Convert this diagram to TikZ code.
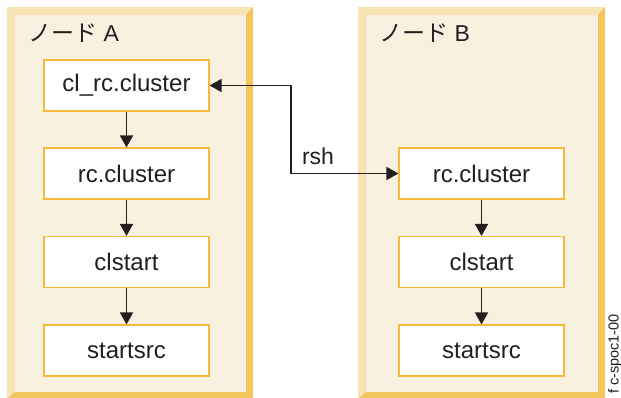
\documentclass[tikz,border=0pt]{standalone}
\usepackage{fontspec}
\setmainfont{Liberation Sans}
\newfontfamily\jpfont{Noto Sans CJK JP}
\usetikzlibrary{arrows.meta}
\definecolor{panelfill}{HTML}{F8F1DF}
\definecolor{bevellight}{HTML}{F6E4B4}
\definecolor{beveldark}{HTML}{F4C75C}
\definecolor{boxline}{HTML}{F6B93E}
\definecolor{ink}{HTML}{231F20}
\newcommand\bevelpanel[4]{%
  \fill[panelfill] (#1,#2) rectangle (#3,#4);
  \fill[bevellight] (#1,#2) -- (#3,#2) -- (#3-7,#2+8) -- (#1+8,#2+8) -- cycle;
  \fill[bevellight] (#1,#2) -- (#1+8,#2+8) -- (#1+8,#4-7) -- (#1,#4) -- cycle;
  \fill[beveldark] (#3,#2) -- (#3,#4) -- (#3-7,#4-7) -- (#3-7,#2+8) -- cycle;
  \fill[beveldark] (#1,#4) -- (#3,#4) -- (#3-7,#4-7) -- (#1+8,#4-7) -- cycle;
}
\begin{document}
\begin{tikzpicture}[x=1pt,y=-1pt,
  procbox/.style={draw=boxline,line width=1.2pt,fill=white,minimum width=165pt,minimum height=51pt,inner sep=0pt,text=ink,font=\fontsize{24}{28}\selectfont},
  flow/.style={draw=ink,line width=1.8pt,-{Triangle[length=12pt,width=13pt]}},
  flowboth/.style={draw=ink,line width=1.8pt,{Triangle[length=12pt,width=13pt]}-{Triangle[length=12pt,width=13pt]}},
  paneltitle/.style={anchor=west,text=ink,inner sep=0pt,font=\fontsize{23}{28}\selectfont},
  figid/.style={rotate=90,anchor=east,text=ink,inner sep=0pt,font=\fontsize{14.5}{16}\selectfont}]
\useasboundingbox (0,0) rectangle (621,397);
\clip (0,0) rectangle (621,397);
\fill[white] (0,0) rectangle (621,397);
\bevelpanel{7}{7}{253}{399}
\bevelpanel{358}{7}{605}{399}
\node[paneltitle] (ta) at (28,33) {{\jpfont ノード} A};
\node[paneltitle] (tb) at (379,33) {{\jpfont ノード} B};
\node[procbox] (a1) at (126.5,85.5) {cl\_rc.cluster};
\node[procbox] (a2) at (126.5,173.5) {rc.cluster};
\node[procbox] (a3) at (126.5,262) {clstart};
\node[procbox] (a4) at (126.5,350.5) {startsrc};
\node[procbox] (b2) at (481.5,173.5) {rc.cluster};
\node[procbox] (b3) at (481.5,262) {clstart};
\node[procbox] (b4) at (481.5,350.5) {startsrc};
\draw[flow] (a1) -- (a2);
\draw[flow] (a2) -- (a3);
\draw[flow] (a3) -- (a4);
\draw[flow] (b2) -- (b3);
\draw[flow] (b3) -- (b4);
\coordinate (bend) at (291,85.5);
\draw[flowboth] (a1.east) -- (bend) |- (b2.west);
\node[text=ink,inner sep=0pt,font=\fontsize{23}{28}\selectfont] (rsh) at (318,156) {rsh};
\node[figid] (fid) at (615,314) {f c-spoc1-00};
\end{tikzpicture}
\end{document}
